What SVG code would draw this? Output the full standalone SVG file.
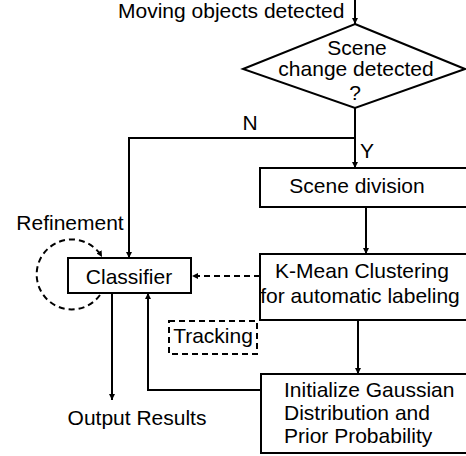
<svg xmlns="http://www.w3.org/2000/svg" width="466" height="456" viewBox="0 0 466 456">
<style>
text{font-family:"Liberation Sans",Arial,sans-serif;font-size:21px;fill:#000}
.c{text-anchor:middle}
.box{fill:#fff;stroke:#000;stroke-width:2}
.dbox{fill:#fff;stroke:#000;stroke-width:2;stroke-dasharray:6 4}
.ln{fill:none;stroke:#000;stroke-width:2}
.dl{fill:none;stroke:#000;stroke-width:2;stroke-dasharray:6 4}
</style>
<defs>
<marker id="ah" viewBox="0 0 10 10" refX="10" refY="5" markerWidth="3" markerHeight="3" orient="auto" markerUnits="strokeWidth">
<path d="M0,0 L10,5 L0,10 z" fill="#000"/>
</marker>
</defs>
<g id="connectors">
<path class="ln" d="M355,0 L355,24" marker-end="url(#ah)"/>
<path class="ln" d="M355,108 L355,168" marker-end="url(#ah)"/>
<path class="ln" d="M355,138 L129,138 L129,258" marker-end="url(#ah)"/>
<path class="ln" d="M366,207 L366,254" marker-end="url(#ah)"/>
<path class="dl" d="M260,276 L192,276" marker-end="url(#ah)"/>
<path class="ln" d="M358,320 L358,374" marker-end="url(#ah)"/>
<path class="ln" d="M112,293 L112,400" marker-end="url(#ah)"/>
<path class="ln" d="M261,390 L148,390 L148,293" marker-end="url(#ah)"/>
<path class="dl" d="M100,295 A35,35 0 1 1 102,257" marker-end="url(#ah)"/>
</g>
<g id="start"><text x="118" y="18">Moving objects detected</text></g>
<g id="decision">
<polygon class="box" points="355,24 465,69 355,108 243,69"/>
<text class="c" x="357" y="55">Scene</text>
<text class="c" x="356" y="76">change detected</text>
<text class="c" x="355" y="100">?</text>
</g>
<g id="labelN"><text class="c" x="250" y="130">N</text></g>
<g id="labelY"><text x="360" y="158">Y</text></g>
<g id="scene-division">
<rect class="box" x="260" y="168" width="212" height="39"/>
<text class="c" x="357" y="193">Scene division</text>
</g>
<g id="kmean">
<rect class="box" x="260" y="254" width="212" height="66"/>
<text class="c" x="362" y="278">K-Mean Clustering</text>
<text class="c" x="360" y="303">for automatic labeling</text>
</g>
<g id="classifier">
<rect class="box" x="68" y="258" width="123" height="35"/>
<text class="c" x="129" y="284">Classifier</text>
</g>
<g id="refinement"><text class="c" x="70" y="230">Refinement</text></g>
<g id="tracking">
<rect class="dbox" x="169" y="321" width="88" height="33"/>
<text class="c" x="213" y="343">Tracking</text>
</g>
<g id="init">
<rect class="box" x="261" y="374" width="211" height="79"/>
<text x="284" y="397">Initialize Gaussian</text>
<text x="284" y="420">Distribution and</text>
<text x="284" y="443">Prior Probability</text>
</g>
<g id="output"><text class="c" x="137" y="425">Output Results</text></g>
</svg>
